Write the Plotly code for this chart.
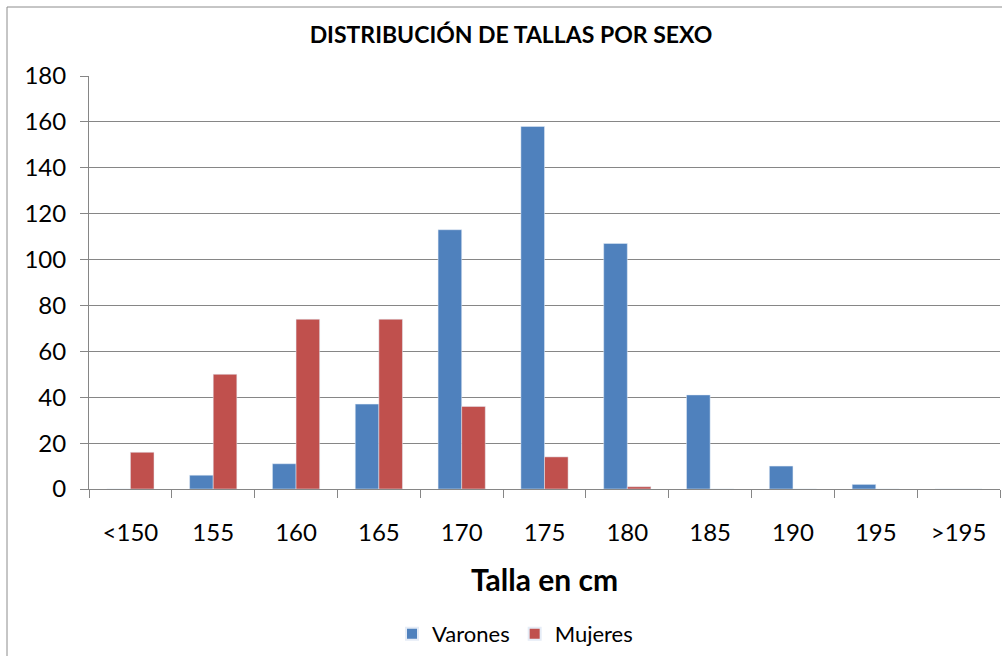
import plotly.graph_objects as go

categories = ["<150", "155", "160", "165", "170", "175", "180", "185", "190", "195", ">195"]
varones = [0, 6, 11, 37, 113, 158, 107, 41, 10, 2, 0]
mujeres = [16, 50, 74, 74, 36, 14, 1, 0, 0, 0, 0]
y_ticks = [0, 20, 40, 60, 80, 100, 120, 140, 160, 180]

W, H = 1002, 656
L, R, T, B = 89, 1000, 76, 489
pw, ph = R - L, B - T

FONT = "Lato, 'Open Sans', sans-serif"

fig = go.Figure()
fig.add_trace(go.Bar(name="Varones", x=categories, y=varones, marker_color="#4F81BD"))
fig.add_trace(go.Bar(name="Mujeres", x=categories, y=mujeres, marker_color="#C0504D"))

fig.update_layout(
    width=W, height=H,
    margin=dict(l=L, r=W - R, t=T, b=H - B, autoexpand=False),
    paper_bgcolor="white", plot_bgcolor="white",
    barmode="group", bargap=0.43, bargroupgap=0,
    font=dict(family=FONT, color="#000000", size=24),
    title=dict(text="<b>DISTRIBUCIÓN DE TALLAS POR SEXO</b>", x=511 / W, xanchor="center",
               y=1 - 35 / H, yanchor="middle", font=dict(size=23, family=FONT)),
    showlegend=True,
    legend=dict(orientation="h", x=(515 - L) / pw, xanchor="center",
                y=-(634 - B) / ph, yanchor="middle", font=dict(size=22),
                itemsizing="constant", traceorder="normal"),
    xaxis=dict(
        type="category", tickson="boundaries", ticks="outside", ticklen=8, tickcolor="#868686",
        showline=True, linecolor="#868686", linewidth=1, showgrid=False,
        tickfont=dict(size=24), ticklabelstandoff=22,
        title=dict(text="<b>Talla en cm</b>", font=dict(size=30), standoff=25),
    ),
    yaxis=dict(
        range=[0, 180], tickvals=y_ticks, ticks="outside", ticklen=8, tickcolor="#868686",
        showline=True, linecolor="#868686", linewidth=1,
        showgrid=True, gridcolor="#868686", gridwidth=1, zeroline=False,
        tickfont=dict(size=24), ticklabelstandoff=9,
    ),
    shapes=[dict(type="rect", xref="paper", yref="paper",
                 x0=(7 - L) / pw, x1=(1020 - L) / pw,
                 y0=-(680 - B) / ph, y1=1 + (T - 7) / ph,
                 line=dict(color="#8C8C8C", width=1), layer="below")],
)

fig.write_html("out.html", config={"displayModeBar": False},
               post_script="document.body.style.margin='0';document.body.style.padding='0';")
